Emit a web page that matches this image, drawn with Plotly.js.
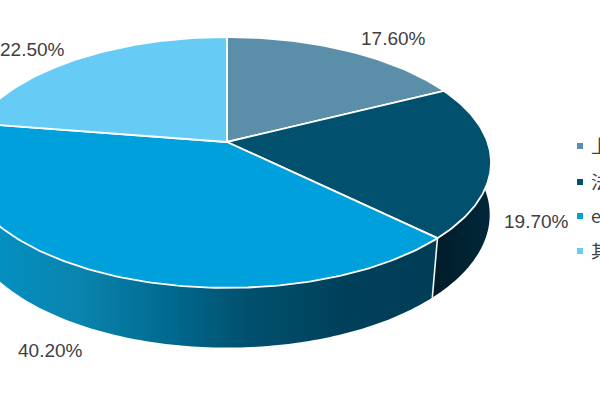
<!DOCTYPE html>
<html><head><meta charset="utf-8">
<script src="https://cdn.plot.ly/plotly-3.0.1.min.js"></script>
<style>html,body{margin:0;padding:0;background:#fff;overflow:hidden}#c{width:600px;height:400px}</style>
</head><body><div id="c"></div>
<script>
const categories = ["上", "法", "e", "其"];
const shares = [17.60, 19.70, 40.20, 22.50];
const colors = ["#5b8fa9", "#00506e", "#00a0dc", "#66ccf5"];

// Projection of the tilted disc into plot coordinates
const cx = 227, cy = 142, A = 260.5, B = 122.1, K = 0.163;
const SX = 0.995, SY = 1.06, DY = 51, TWIST = 1.3;
function topPt(deg) {
  const t = deg * Math.PI / 180, u = Math.sin(t), v = Math.cos(t), w = 1 + K * v;
  return [cx + A * u / w, cy - B * v / w];
}
function bottomPt(deg) {
  const p = topPt(deg + TWIST);
  return [cx + (p[0] - cx) * SX, cy + DY + (p[1] - cy) * SY];
}
function arc(fn, a, b) {
  const n = Math.max(2, Math.ceil(Math.abs(b - a))), out = [];
  for (let i = 0; i <= n; i++) out.push(fn(a + (b - a) * i / n));
  return out;
}
const traces = [];
let cum = 0;
const spans = shares.map(s => { const a = cum * 3.6; cum += s; return [a, cum * 3.6]; });

// Side walls (only the two front slices show)
const wallStyles = [
  null,
  { colorscale: [[0, "#001c28"], [1, "#00283a"]], start: 432, stop: 490 },
  { colorscale: [[0, "#0095c8"], [0.25, "#0a84ae"], [0.45, "#00688e"], [0.6, "#00516e"], [0.82, "#003f5a"], [1, "#003d57"]], start: -40, stop: 436 },
  null
];
spans.forEach((sp, i) => {
  if (!wallStyles[i]) return;
  const pts = arc(topPt, sp[0], sp[1]).concat(arc(bottomPt, sp[1], sp[0]));
  traces.push({
    type: "scatter", mode: "none", fill: "toself",
    x: pts.map(p => p[0]), y: pts.map(p => p[1]),
    fillcolor: "#003d57",
    fillgradient: Object.assign({ type: "horizontal" }, wallStyles[i]),
    hoverinfo: "skip", showlegend: false
  });
});
// Seam between the two front walls
const seamA = topPt(spans[1][1]), seamB = bottomPt(spans[1][1]);
traces.push({
  type: "scatter", mode: "lines", x: [seamA[0], seamB[0]], y: [seamA[1], seamB[1]],
  line: { color: "#f2f5f6", width: 1.6 }, hoverinfo: "skip", showlegend: false
});
// Top faces
spans.forEach((sp, i) => {
  const pts = [[cx, cy]].concat(arc(topPt, sp[0], sp[1])).concat([[cx, cy]]);
  traces.push({
    type: "scatter", mode: "lines", fill: "toself",
    x: pts.map(p => p[0]), y: pts.map(p => p[1]),
    fillcolor: colors[i], line: { color: "#ffffff", width: 1.8 },
    hoverinfo: "skip", showlegend: false
  });
});
// Legend keys
const legendX = 580, legendY = [146, 182, 216, 251];
traces.push({
  type: "scatter", mode: "markers", x: legendY.map(() => legendX), y: legendY,
  marker: { symbol: "square", size: 6, color: colors },
  hoverinfo: "skip", showlegend: false
});

const font = { family: "Liberation Sans, Arial, sans-serif", size: 19, color: "#404040" };
const labelPos = [[393, 38], [536, 221], [50, 350], [32, 49]];
const annotations = shares.map((s, i) => ({
  x: labelPos[i][0], y: labelPos[i][1], xref: "x", yref: "y", showarrow: false,
  text: s.toFixed(2) + "%", font, xanchor: "center", yanchor: "middle"
})).concat(categories.map((c, i) => ({
  x: 589, y: legendY[i] - 1, xref: "x", yref: "y", showarrow: false, text: c,
  font: { family: "Noto Sans CJK SC, Liberation Sans, sans-serif", size: 18, color: "#404040" },
  xanchor: "left", yanchor: "middle", align: "left"
})));

const axis = { visible: false, fixedrange: true };
Plotly.newPlot("c", traces, {
  width: 600, height: 400, margin: { l: 0, r: 0, t: 0, b: 0, pad: 0 },
  paper_bgcolor: "#fff", plot_bgcolor: "#fff", showlegend: false,
  xaxis: Object.assign({ range: [0, 600] }, axis),
  yaxis: Object.assign({ range: [400, 0] }, axis),
  annotations
}, { displayModeBar: false, staticPlot: true });
</script></body></html>
